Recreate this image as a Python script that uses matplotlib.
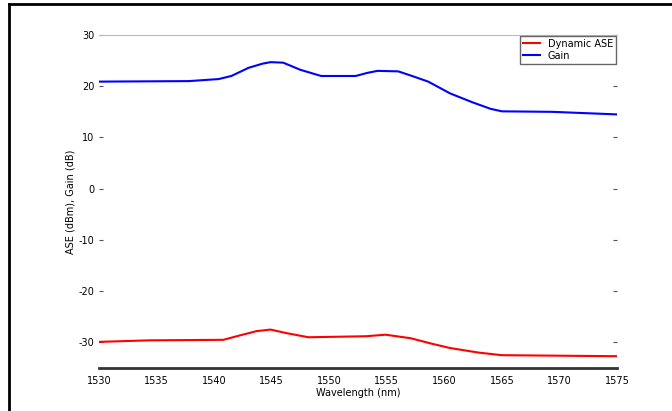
import numpy as np
import matplotlib
matplotlib.use('Agg')
import matplotlib.pyplot as plt
from matplotlib.lines import Line2D

## data
wl_gain = [1530, 1537.8, 1540.4, 1541.5, 1543.0, 1544.2, 1544.9, 1546.0, 1547.5, 1549.3,
           1552.3, 1553.3, 1554.2, 1556.0, 1557.2, 1558.6, 1560.5, 1562.4, 1564.0,
           1565.0, 1569.4, 1575.0]
gain = [20.9, 21.0, 21.4, 22.0, 23.6, 24.4, 24.7, 24.6, 23.2, 22.0,
        22.0, 22.6, 23.0, 22.9, 22.0, 20.9, 18.6, 16.9, 15.6,
        15.1, 15.0, 14.5]

wl_ase = [1530, 1534.4, 1540.8, 1542.3, 1543.7, 1544.9, 1546.3, 1548.2, 1553.2, 1554.9,
          1557.1, 1558.8, 1560.5, 1563.0, 1565.0, 1575.0]
ase = [-29.9, -29.6, -29.5, -28.6, -27.8, -27.5, -28.2, -29.0, -28.8, -28.5,
       -29.2, -30.2, -31.1, -32.0, -32.5, -32.7]

xticks = [1530, 1535, 1540, 1545, 1550, 1555, 1560, 1565, 1570, 1575]
yticks = [-30, -20, -10, 0, 10, 20, 30]

fig = plt.figure(figsize=(6.72, 4.11), dpi=100)
ax = fig.add_axes([99/672, 1-368/411, (617-99)/672, (368-35)/411])

ax.plot(wl_ase, ase, color='#ff0000', lw=1.5, label='Dynamic ASE')
ax.plot(wl_gain, gain, color='#0000ff', lw=1.5, label='Gain')

ax.set_xlim(1530, 1575)
ax.set_ylim(-35, 30)
ax.set_xticks(xticks)
ax.set_xticklabels([str(v) for v in xticks], fontsize=7)
ax.set_xticks([1535, 1550, 1565], minor=True)
ax.tick_params(axis='x', which='major', length=0, pad=6)
ax.tick_params(axis='x', which='minor', length=3, top=True, direction='in', color='#555555')
ax.set_yticks(yticks)
ax.set_yticklabels([str(v) for v in yticks], fontsize=7)
ax.tick_params(axis='y', length=3, direction='in', right=True, color='#555555')

ax.spines['left'].set_visible(False)
ax.spines['right'].set_visible(False)
ax.spines['top'].set_color('#bbbbbb')
ax.spines['bottom'].set_color('#333333')
ax.spines['bottom'].set_linewidth(2)

ax.set_xlabel('Wavelength (nm)', fontsize=7, labelpad=1)
ax.set_ylabel('ASE (dBm), Gain (dB)', fontsize=7, labelpad=2)

leg = ax.legend(loc='upper right', fontsize=7, fancybox=False, framealpha=1,
                edgecolor='#666666', handlelength=1.8, borderaxespad=0.1,
                borderpad=0.3, labelspacing=0.2)

## figure frame: top and left only
fig.add_artist(Line2D([9/672, 1], [1-4/411, 1-4/411], color='black', lw=2))
fig.add_artist(Line2D([9/672, 9/672], [0, 1-4/411], color='black', lw=2))

fig.savefig('out.png', dpi=100)
